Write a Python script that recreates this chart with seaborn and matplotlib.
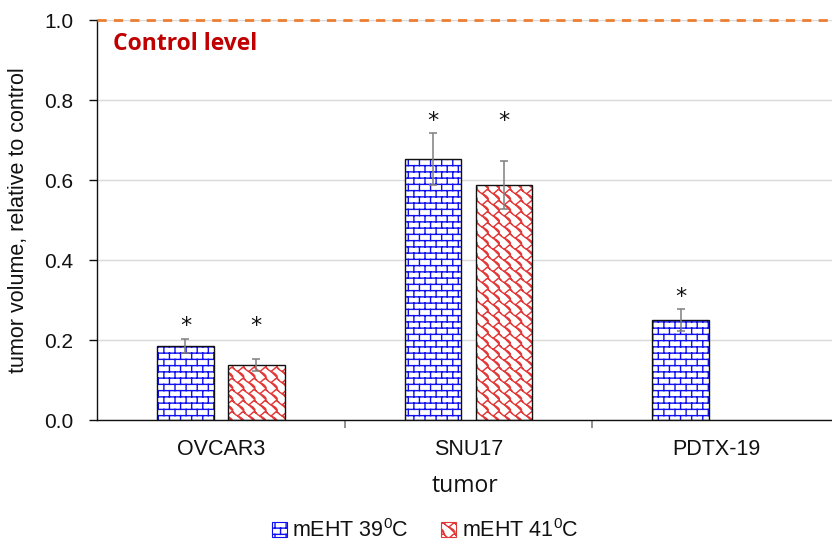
import warnings
import numpy as np
import pandas as pd
import matplotlib
matplotlib.use("Agg")
import matplotlib.pyplot as plt
import matplotlib.patches as mpatches
import matplotlib.hatch as mhatch
import seaborn as sns

warnings.filterwarnings("ignore")

# ---- data -------------------------------------------------------------
tumors = ["OVCAR3", "SNU17", "PDTX-19"]
groups = ["mEHT 39$^{0}$C", "mEHT 41$^{0}$C"]

temp39_mean = [0.185, 0.652, 0.250]
temp39_err = [0.018, 0.065, 0.027]
temp41_mean = [0.138, 0.587]          # no 41 °C arm for PDTX-19
temp41_err = [0.015, 0.060]

control_level = 1.0
y_ticks = [0.0, 0.2, 0.4, 0.6, 0.8, 1.0]


# ---- custom hatch patterns (brick and shingle) --------------------------
class BrickHatch(mhatch.HatchPatternBase):
    """Horizontal brick pattern, drawn for the character 'B'."""
    rows, cols = 16, 9

    def __init__(self, hatch, density):
        n, m = self.rows, self.cols
        self.on = hatch.count("B") > 0
        self.num_vertices = (2 * n + 2 * (n + 1) * m) if self.on else 0

    def set_vertices_and_codes(self, vertices, codes):
        n, m = self.rows, self.cols
        segs = []
        for i in range(n):
            y = (i + 0.5) / n
            segs.append(((0.0, y), (1.0, y)))
        for i in range(-1, n):
            y0, y1 = (i + 0.5) / n, (i + 1.5) / n
            shift = 0.5 if i % 2 else 0.0
            for j in range(m):
                x = (j + 0.25 + shift) / m
                segs.append(((x, y0), (x, y1)))
        pts = np.array([p for s in segs for p in s], dtype=float)
        vertices[:] = pts
        codes[0::2] = mpatches.Path.MOVETO
        codes[1::2] = mpatches.Path.LINETO


class ShingleHatch(mhatch.HatchPatternBase):
    """Overlapping shingle pattern, drawn for the character 'S'."""
    reps = 9
    # one 8x8 motif, x to the right and y downwards
    main = [(-0.5, 0.5), (0.5, 1.5), (1.5, 2.5), (3.0, 3.4), (5.0, 4.4),
            (6.5, 5.5), (7.5, 6.8), (7.5, 8.5), (8.5, 9.5)]
    branch = [(7.5, 0.5), (6.5, 0.6), (4.5, 2.4), (3.2, 3.4)]

    def __init__(self, hatch, density):
        self.on = hatch.count("S") > 0
        k = self.reps + 2
        per = len(self.main) + len(self.branch)
        self.num_vertices = (k * k * per) if self.on else 0

    def set_vertices_and_codes(self, vertices, codes):
        k = self.reps
        size = 8.0 * k
        verts, cds = [], []
        for a in range(-1, k + 1):
            for b in range(-1, k + 1):
                for line in (self.main, self.branch):
                    for idx, (x, y) in enumerate(line):
                        verts.append(((a * 8 + x) / size,
                                      1.0 - (b * 8 + y) / size))
                        cds.append(mpatches.Path.MOVETO if idx == 0
                                   else mpatches.Path.LINETO)
        vertices[:] = np.array(verts)
        codes[:] = np.array(cds)


mhatch._hatch_types.extend([BrickHatch, ShingleHatch])

# ---- style --------------------------------------------------------------
sns.set_theme(style="white")
plt.rcParams["font.family"] = ["Liberation Sans", "DejaVu Sans"]
plt.rcParams["mathtext.fontset"] = "custom"
plt.rcParams["mathtext.rm"] = "Liberation Sans"
plt.rcParams["mathtext.it"] = "Liberation Sans:italic"
plt.rcParams["hatch.linewidth"] = 1.0

blue = "#1010F0"
red = "#E23838"
ink = "#111111"
styles = {groups[0]: (blue, "B"), groups[1]: (red, "S")}

rows = []
for t, v in zip(tumors, temp39_mean):
    rows.append({"tumor": t, "group": groups[0], "volume": v})
for t, v in zip(tumors, temp41_mean):
    rows.append({"tumor": t, "group": groups[1], "volume": v})
df = pd.DataFrame(rows)
errors = {groups[0]: temp39_err, groups[1]: temp41_err}

fig = plt.figure(figsize=(8.32, 5.47), dpi=100)
ax = fig.add_axes([97 / 832, 127 / 547, 735 / 832, 400 / 547])

sns.barplot(data=df, x="tumor", y="volume", hue="group",
            order=tumors, hue_order=groups, width=0.572, gap=0.2,
            errorbar=None, palette=["white", "white"], legend=False,
            ax=ax, zorder=2)

star_tops = {}
for group, container in zip(groups, ax.containers):
    color, hatch = styles[group]
    for bar in container:
        bar.set_facecolor("white")
        bar.set_edgecolor(color)
        bar.set_linewidth(0)
        bar.set_hatch(hatch)
        x0, y0 = bar.get_xy()
        w, h = bar.get_width(), bar.get_height()
        ax.add_patch(mpatches.Rectangle((x0, y0), w, h, fill=False,
                                        edgecolor=ink, lw=1.0, zorder=3))
        cat = int(round(x0 + w / 2))
        err = errors[group][cat]
        ax.errorbar(x0 + w / 2, h, yerr=err, color="#7F7F7F", lw=1.1,
                    capsize=3.2, capthick=1.1, zorder=4)
        star_tops.setdefault(cat, []).append((x0 + w / 2, h + err))

# significance marks above every bar
for cat, items in star_tops.items():
    top = max(t for _, t in items)
    for xc, _ in items:
        ax.annotate("*", (xc, top), xytext=(0, 9), textcoords="offset points",
                    ha="center", va="center", fontsize=16, color=ink,
                    family="DejaVu Sans", zorder=5)

# control reference line
ax.axhline(control_level, color="#ED7D31", lw=2.0, dashes=(3.3, 2.6),
           clip_on=False, zorder=5)
ax.text(0.022, 0.94, "Control level", transform=ax.transAxes,
        color="#C00000", fontsize=16.5, fontweight="bold", family="Open Sans",
        ha="left", va="center")

# axes
ax.set_ylim(0, 1.0)
ax.set_xlim(-0.5, 2.468)
ax.set_yticks(y_ticks)
ax.set_yticklabels([f"{v:.1f}" for v in y_ticks])
ax.yaxis.grid(True, color="#D9D9D9", lw=1.0, zorder=0)
ax.set_axisbelow(True)
for side in ("top", "right"):
    ax.spines[side].set_visible(False)
for side in ("left", "bottom"):
    ax.spines[side].set_color(ink)
    ax.spines[side].set_linewidth(1.0)

ax.tick_params(axis="y", direction="out", length=6, width=1, color=ink,
               labelsize=15, pad=11, left=True, labelcolor=ink)
ax.tick_params(axis="x", which="major", length=0, labelsize=15.5, pad=14,
               labelcolor=ink)
ax.set_xticks([0.5, 1.5], minor=True)
ax.tick_params(axis="x", which="minor", direction="out", length=6, width=1.2,
               color="#7F7F7F", bottom=True)

ax.set_xlabel("tumor", fontsize=16.5, family="Open Sans", color=ink)
ax.xaxis.set_label_coords(0.5, -0.135)
ax.set_ylabel("tumor volume, relative to control", fontsize=15.5, color=ink)
ax.yaxis.set_label_coords(-0.092, 0.5)

handles = [mpatches.Patch(facecolor="white", edgecolor=styles[g][0],
                          hatch=styles[g][1], lw=0.8, label=g) for g in groups]
leg = fig.legend(handles=handles, loc="center",
                 bbox_to_anchor=(425 / 832, 16 / 547), ncol=2, frameon=False,
                 fontsize=15.5, handlelength=0.7, handleheight=0.7,
                 handletextpad=0.25, columnspacing=1.5, borderpad=0.2)
for txt in leg.get_texts():
    txt.set_color(ink)

fig.savefig("out.png", dpi=100)
